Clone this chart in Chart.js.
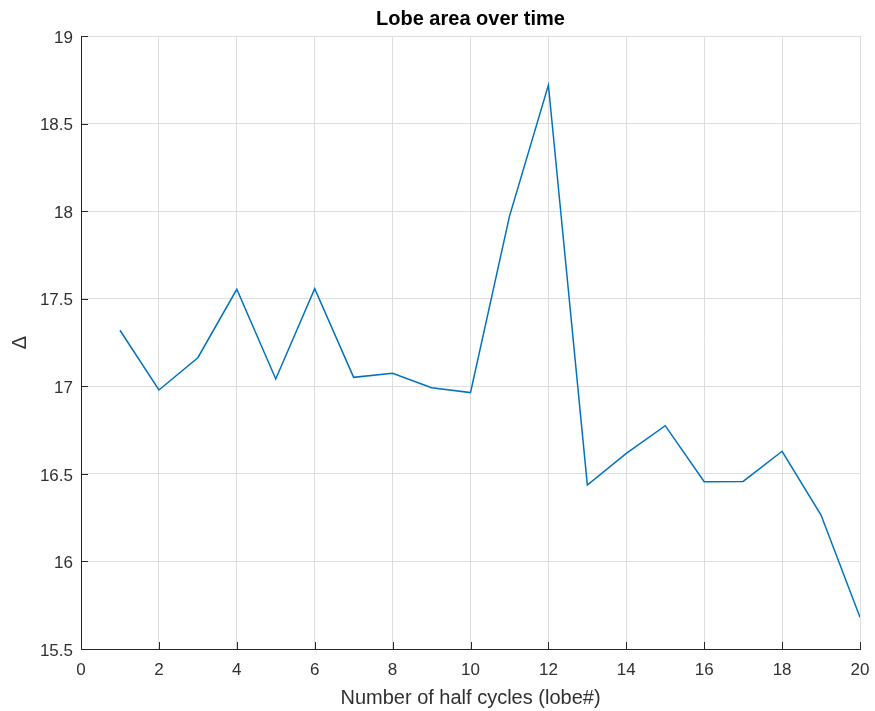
<!DOCTYPE html>
<html>
<head>
<meta charset="utf-8">
<title>Lobe area over time</title>
<script src="https://cdn.jsdelivr.net/npm/chart.js@4.4.1/dist/chart.umd.min.js"></script>
<style>
    html, body { margin: 0; padding: 0; background: #fff; }
    #wrap { width: 875px; height: 711px; }
</style>
</head>
<body>
<div id="wrap"><canvas id="lobeChart" width="875" height="711"></canvas></div>
<script>
// Lobe number and measured area per half cycle
const lobes = [1, 2, 3, 4, 5, 6, 7, 8, 9, 10, 11, 12, 13, 14, 15, 16, 17, 18, 19, 20];
const lobeArea = [17.32, 16.979, 17.163, 17.554, 17.042, 17.557, 17.051, 17.074, 16.992, 16.964,
                  17.97, 18.72, 16.436, 16.617, 16.775, 16.455, 16.457, 16.629, 16.265, 15.681];

// Axis ranges and tick spacing
const xRange = [0, 20];
const xStep = 2;
const yRange = [15.5, 19];
const yStep = 0.5;

const FONT = '"Liberation Sans", Arial, Helvetica, sans-serif';
const AXIS_COLOR = '#262626';
const TEXT_COLOR = '#303030';
const GRID_COLOR = '#dedede';

// Inward tick marks on the bottom and left axes
const innerTicks = {
    id: 'innerTicks',
    afterDatasetsDraw(chart) {
        const ctx = chart.ctx;
        const area = chart.chartArea;
        const xs = chart.scales.x;
        const ys = chart.scales.y;
        const len = 7;
        ctx.save();
        ctx.strokeStyle = AXIS_COLOR;
        ctx.lineWidth = 1;
        ctx.beginPath();
        xs.ticks.forEach(t => {
            const px = Math.round(xs.getPixelForValue(t.value)) + 0.5;
            ctx.moveTo(px, area.bottom);
            ctx.lineTo(px, area.bottom - len);
        });
        ys.ticks.forEach(t => {
            const py = Math.round(ys.getPixelForValue(t.value)) + 0.5;
            ctx.moveTo(area.left, py);
            ctx.lineTo(area.left + len, py);
        });
        ctx.stroke();
        ctx.restore();
    }
};

const ctx = document.getElementById('lobeChart').getContext('2d');
new Chart(ctx, {
    type: 'line',
    data: {
        datasets: [{
            label: 'Lobe area',
            data: lobes.map((x, i) => ({ x: x, y: lobeArea[i] })),
            borderColor: '#0072BD',
            borderWidth: 1.5,
            pointRadius: 0,
            fill: false,
            tension: 0
        }]
    },
    options: {
        responsive: false,
        animation: false,
        layout: {
            padding: { left: 0, right: 15, top: 0, bottom: 0 }
        },
        plugins: {
            legend: { display: false },
            tooltip: { enabled: false },
            title: {
                display: true,
                fullSize: false,
                text: 'Lobe area over time',
                color: '#000',
                font: { family: FONT, size: 20, weight: 'bold' },
                padding: { top: 7, bottom: 5 }
            }
        },
        scales: {
            x: {
                type: 'linear',
                min: xRange[0],
                max: xRange[1],
                border: { color: AXIS_COLOR, width: 1 },
                grid: { color: GRID_COLOR, drawTicks: false },
                ticks: {
                    stepSize: xStep,
                    color: TEXT_COLOR,
                    padding: 11,
                    maxRotation: 0,
                    font: { family: FONT, size: 17 }
                },
                title: {
                    display: true,
                    text: 'Number of half cycles (lobe#)',
                    color: TEXT_COLOR,
                    font: { family: FONT, size: 20 },
                    padding: { top: 2, bottom: 1 }
                },
                afterFit(scale) {
                    scale.height = 62;
                    scale.paddingLeft = 0;
                    scale.paddingRight = 0;
                }
            },
            y: {
                type: 'linear',
                min: yRange[0],
                max: yRange[1],
                border: { color: AXIS_COLOR, width: 1 },
                grid: { color: GRID_COLOR, drawTicks: false },
                ticks: {
                    stepSize: yStep,
                    color: TEXT_COLOR,
                    padding: 8,
                    labelOffset: 2,
                    font: { family: FONT, size: 17 },
                    callback: v => String(v)
                },
                title: {
                    display: true,
                    text: 'Δ',
                    color: TEXT_COLOR,
                    font: { family: FONT, size: 20 },
                    padding: { top: 8, bottom: 0 }
                },
                afterFit(scale) {
                    scale.width = 81;
                    scale.paddingTop = 0;
                    scale.paddingBottom = 0;
                }
            }
        }
    },
    plugins: [innerTicks]
});
</script>
</body>
</html>
